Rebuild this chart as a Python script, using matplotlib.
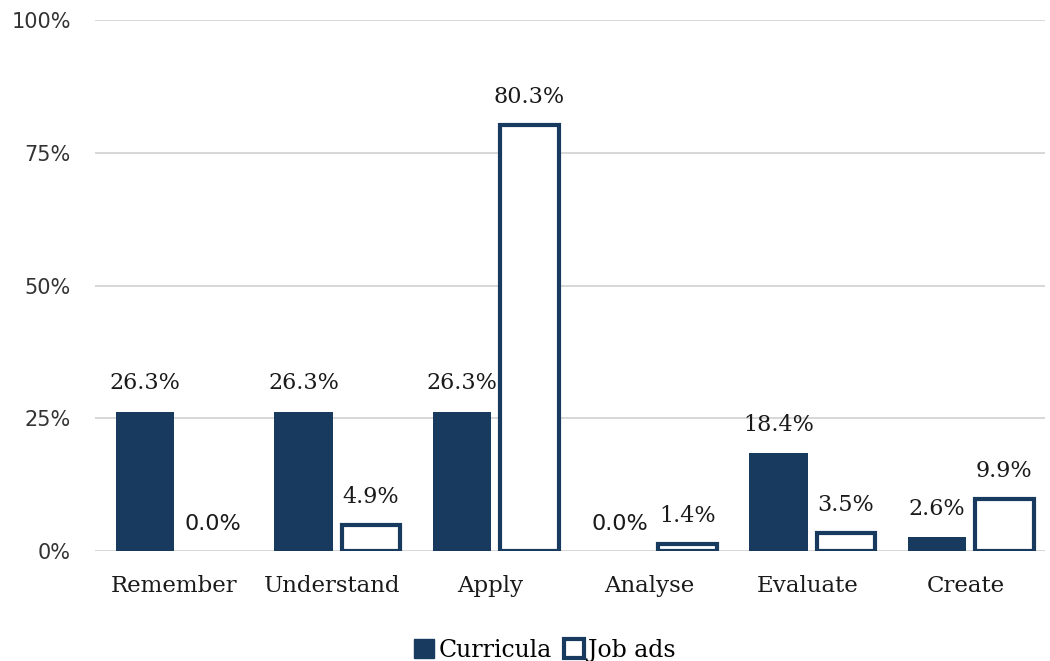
import numpy as np
import matplotlib.pyplot as plt
from matplotlib.patches import Patch

plt.rcParams['font.family'] = ['DejaVu Serif']

categories = ['Remember', 'Understand', 'Apply', 'Analyse', 'Evaluate', 'Create']
curricula = [26.3, 26.3, 26.3, 0.0, 18.4, 2.6]
job_ads = [0.0, 4.9, 80.3, 1.4, 3.5, 9.9]

navy = '#173a5e'

fig = plt.figure(figsize=(10.5, 6.61), dpi=100)
ax = fig.add_axes([0.09, 0.166, 0.905, 0.804])

x = np.arange(len(categories))
w = 0.37
b1 = ax.bar(x - 0.18, curricula, w, color=navy)
b2 = ax.bar(x + 0.245, job_ads, w, facecolor='white', edgecolor=navy, linewidth=3)

for bars, vals in ((b1, curricula), (b2, job_ads)):
    for r, v in zip(bars, vals):
        if v == 0:
            r.set_visible(False)
            fam = ['DejaVu Sans']
        else:
            fam = ['DejaVu Serif']
        ax.text(r.get_x() + r.get_width() / 2, v + 3.2, f'{v:.1f}%', ha='center', va='bottom',
                fontsize=16, color='#1a1a1a', family=fam)

ax.set_xlim(-0.5, len(categories) - 0.5)
ax.set_ylim(0, 100)
ax.set_yticks([0, 25, 50, 75, 100])
ax.set_yticklabels(['0%', '25%', '50%', '75%', '100%'], family=['DejaVu Sans'], fontsize=15, color='#333333')
ax.set_xticks(x)
ax.set_xticklabels(categories, fontsize=16.5, color='#1a1a1a')
ax.tick_params(length=0)
ax.tick_params(axis='x', pad=17)
ax.tick_params(axis='y', pad=17)
ax.grid(axis='y', color='#d4d4d4', linewidth=1.3)
ax.set_axisbelow(True)
for s in ax.spines.values():
    s.set_visible(False)

handles = [Patch(facecolor=navy, edgecolor=navy, label='Curricula'),
           Patch(facecolor='white', edgecolor=navy, linewidth=3, label='Job ads')]
ax.legend(handles=handles, loc='upper center', bbox_to_anchor=(0.474, -0.125), ncol=2, frameon=False,
          fontsize=17, handlelength=0.85, handleheight=0.85, handletextpad=0.2, columnspacing=0.5)

fig.savefig('out.png')
